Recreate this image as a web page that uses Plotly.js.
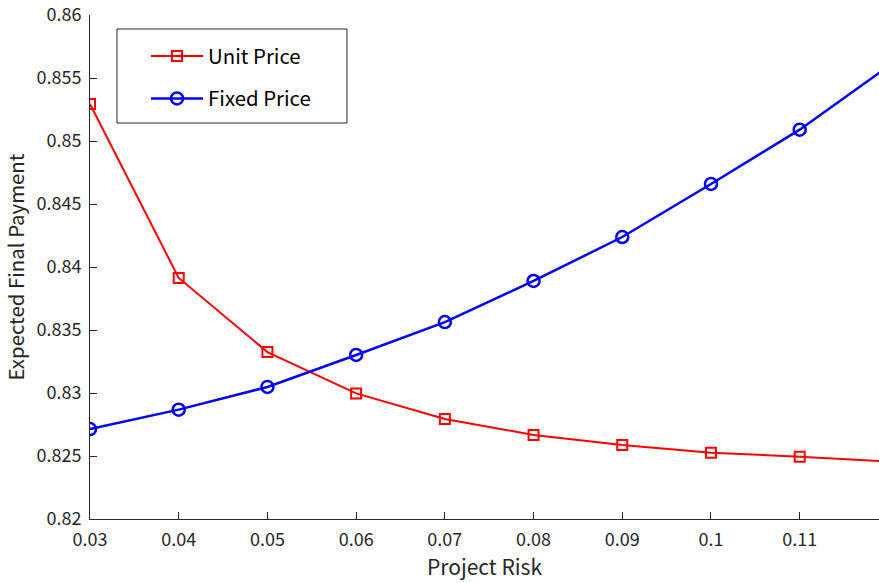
<!DOCTYPE html>
<html>
<head>
<meta charset="utf-8">
<script src="https://cdn.plot.ly/plotly-3.0.1.min.js"></script>
<style>html,body{margin:0;padding:0;background:#fff}#chart{width:879px;height:583px}</style>
</head>
<body>
<div id="chart"></div>
<script>
const projectRisk = [0.03, 0.04, 0.05, 0.06, 0.07, 0.08, 0.09, 0.10, 0.11, 0.12];
const unitPrice  = [0.85294, 0.83913, 0.83325, 0.82997, 0.82794, 0.82667, 0.82587, 0.82526, 0.82495, 0.82456];
const fixedPrice = [0.82714, 0.82868, 0.83048, 0.83302, 0.83563, 0.83889, 0.84238, 0.84659, 0.85090, 0.85593];
const xTicks = [0.03, 0.04, 0.05, 0.06, 0.07, 0.08, 0.09, 0.10, 0.11];
const xTickText = ['0.03','0.04','0.05','0.06','0.07','0.08','0.09','0.1','0.11'];
const yTicks = [0.82, 0.825, 0.83, 0.835, 0.84, 0.845, 0.85, 0.855, 0.86];
const yTickText = ['0.82','0.825','0.83','0.835','0.84','0.845','0.85','0.855','0.86'];

const FONT = '"Noto Sans CJK JP", "Noto Sans", sans-serif';
const AX = '#262626';

const traces = [
  {x: projectRisk, y: unitPrice, name: 'Unit Price', mode: 'lines+markers', legendgroup: 'a',
   line: {color: '#ff0000', width: 2},
   marker: {symbol: 'square-open', size: 10, color: '#ff0000', line: {width: 2, color: '#ff0000'}}},
  {x: projectRisk, y: fixedPrice, name: 'Fixed Price', mode: 'lines+markers', legendgroup: 'b',
   line: {color: '#0000ff', width: 2.5},
   marker: {symbol: 'circle-open', size: 12, color: '#0000ff', line: {width: 2.5, color: '#0000ff'}}}
];

const layout = {
  width: 879, height: 583,
  margin: {l: 90, r: 0, t: 15, b: 64},
  paper_bgcolor: '#fff', plot_bgcolor: '#fff',
  font: {family: FONT, size: 18, color: AX},
  showlegend: true,
  legend: {x: 0.071, y: 0.958, xanchor: 'left', yanchor: 'top', bgcolor: 'rgba(0,0,0,0)',
           borderwidth: 0, font: {family: FONT, size: 20.4, color: '#000'}, itemwidth: 52,
           traceorder: 'grouped', tracegroupgap: 13},
  xaxis: {range: [0.03, 0.11894], tickvals: xTicks, ticktext: xTickText,
          showgrid: false, zeroline: false, showline: true, linecolor: AX, linewidth: 1,
          ticks: 'inside', ticklen: 7, tickcolor: AX, tickfont: {size: 18, color: AX},
          ticklabelstandoff: 4,
          title: {text: 'Project Risk', font: {size: 21, color: AX}, standoff: 8}},
  yaxis: {range: [0.82, 0.86], tickvals: yTicks, ticktext: yTickText,
          showgrid: false, zeroline: false, showline: true, linecolor: AX, linewidth: 1,
          ticks: 'inside', ticklen: 7, tickcolor: AX, tickfont: {size: 18, color: AX},
          ticklabelstandoff: 4,
          title: {text: 'Expected Final Payment', font: {size: 20.4, color: AX}, standoff: 6}},
  shapes: [{type: 'rect', xref: 'paper', yref: 'paper', x0: 0.0342, x1: 0.3257, y0: 0.7857, y1: 0.9722,
            line: {color: AX, width: 1}, fillcolor: 'rgba(0,0,0,0)'}]
};

Plotly.newPlot('chart', traces, layout, {displayModeBar: false, staticPlot: true});
</script>
</body>
</html>
